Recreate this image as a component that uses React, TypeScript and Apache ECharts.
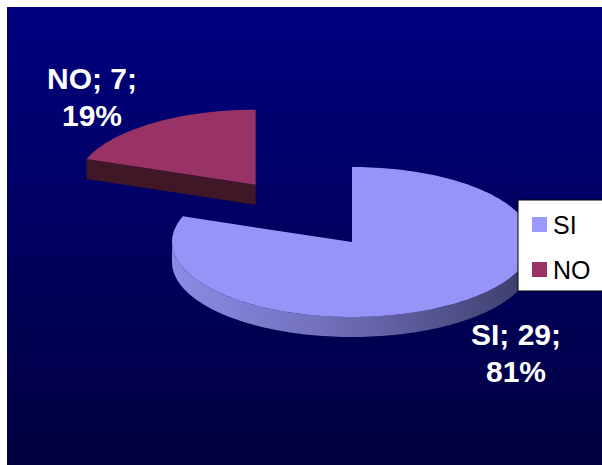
import React, { useEffect, useRef } from "react";
import * as echarts from "echarts";

// ---- data ----
const categories: string[] = ["SI", "NO"];
const values: number[] = [29, 7];

// ---- styles / layout ----
const topColors = ["#9595F7", "#993366"];
const legendColors = ["#9999FF", "#993366"];
const CX = 352;
const CY = 242;
const RX = 180;
const RY = 75;
const DEPTH = 20;
const EXPLODE = [0, 168];
const LABEL_POS: number[][] = [
  [516, 353],
  [92, 97],
];

const total = values.reduce((a, b) => a + b, 0);

function rad(a: number) {
  return (a * Math.PI) / 180;
}

function makeRenderItem(i: number) {
  return (_params: any, _api: any) => {
    const before = values.slice(0, i).reduce((a, b) => a + b, 0);
    const start = (before / total) * 360;
    const end = start + (values[i] / total) * 360;
    const mid = (start + end) / 2;
    const e = EXPLODE[i];
    const cx = CX + Math.sin(rad(mid)) * e;
    const cy = CY - Math.cos(rad(mid)) * e * (RY / RX);
    const pt = (a: number, dy = 0) => [
      cx + RX * Math.sin(rad(a)),
      cy - RY * Math.cos(rad(a)) + dy,
    ];
    const arc = (a0: number, a1: number, dy = 0) => {
      const n = Math.max(2, Math.ceil(Math.abs(a1 - a0) / 1.5));
      const out: number[][] = [];
      for (let k = 0; k <= n; k++) out.push(pt(a0 + ((a1 - a0) * k) / n, dy));
      return out;
    };
    const children: any[] = [];
    const sideFill =
      i === 0
        ? new echarts.graphic.LinearGradient(0, 0, 1, 0, [
            { offset: 0, color: "#8C8CE6" },
            { offset: 0.45, color: "#6E6EB8" },
            { offset: 1, color: "#3C3C6A" },
          ])
        : "#3F1726";
    const cutFill = i === 0 ? "#5A5AA0" : "#3F1726";
    // cut faces
    const sn = start - 90;
    if (Math.cos(rad(sn)) < -1e-6) {
      const r = pt(start);
      children.push({
        type: "polygon",
        shape: { points: [[cx, cy], r, [r[0], r[1] + DEPTH], [cx, cy + DEPTH]] },
        style: { fill: cutFill },
      });
    }
    const en = end + 90;
    if (Math.cos(rad(en)) < -1e-6) {
      const r = pt(end);
      children.push({
        type: "polygon",
        shape: { points: [[cx, cy], r, [r[0], r[1] + DEPTH], [cx, cy + DEPTH]] },
        style: { fill: cutFill },
      });
    }
    // outer side
    const s0 = Math.max(start, 90);
    const s1 = Math.min(end, 270);
    if (s1 > s0) {
      const top = arc(s0, s1);
      const bot = arc(s1, s0, DEPTH);
      children.push({
        type: "polygon",
        shape: { points: top.concat(bot) },
        style: { fill: sideFill },
      });
    }
    // top face
    children.push({
      type: "polygon",
      shape: { points: [[cx, cy]].concat(arc(start, end)) },
      style: { fill: topColors[i] },
    });
    // label
    const pct = Math.round((values[i] / total) * 100);
    children.push({
      type: "text",
      style: {
        text: `${categories[i]}; ${values[i]};\n${pct}%`,
        x: LABEL_POS[i][0],
        y: LABEL_POS[i][1],
        fill: "#FFFFFF",
        fontSize: 30,
        fontWeight: "bold",
        fontFamily: "Liberation Sans, Arial, sans-serif",
        align: "center",
        verticalAlign: "middle",
        lineHeight: 37,
      },
    });
    return { type: "group", children };
  };
}

export default function App() {
  const ref = useRef<HTMLDivElement>(null);
  useEffect(() => {
    if (!ref.current) return;
    const chart = echarts.init(ref.current, null, { renderer: "svg" });
    chart.setOption({
      animation: false,
      graphic: [
        {
          type: "rect",
          z: -10,
          silent: true,
          shape: { x: 7, y: 7, width: 600, height: 470 },
          style: {
            fill: new echarts.graphic.LinearGradient(0, 0, 0, 1, [
              { offset: 0, color: "#000080" },
              { offset: 1, color: "#00003E" },
            ]),
          },
        },
      ],
      legend: {
        data: categories,
        orient: "vertical",
        left: 518,
        top: 200,
        backgroundColor: "#FFFFFF",
        borderColor: "#000000",
        borderWidth: 1,
        borderRadius: 0,
        padding: [12, 40, 9, 14],
        itemWidth: 15,
        itemHeight: 15,
        itemGap: 20,
        icon: "rect",
        textStyle: {
          fontSize: 25,
          lineHeight: 25,
          color: "#000000",
          fontFamily: "Liberation Sans, Arial, sans-serif",
          padding: [0, 0, 0, 1],
        },
      },
      series: categories.map((name, i) => ({
        type: "custom",
        name,
        coordinateSystem: "none",
        z: i === 0 ? 3 : 2,
        itemStyle: { color: legendColors[i] },
        renderItem: makeRenderItem(i),
        data: [[values[i]]],
      })),
    });
    return () => chart.dispose();
  }, []);
  return (
    <div
      ref={ref}
      style={{ position: "fixed", left: 0, top: 0, width: 602, height: 465, background: "#fff" }}
    />
  );
}
